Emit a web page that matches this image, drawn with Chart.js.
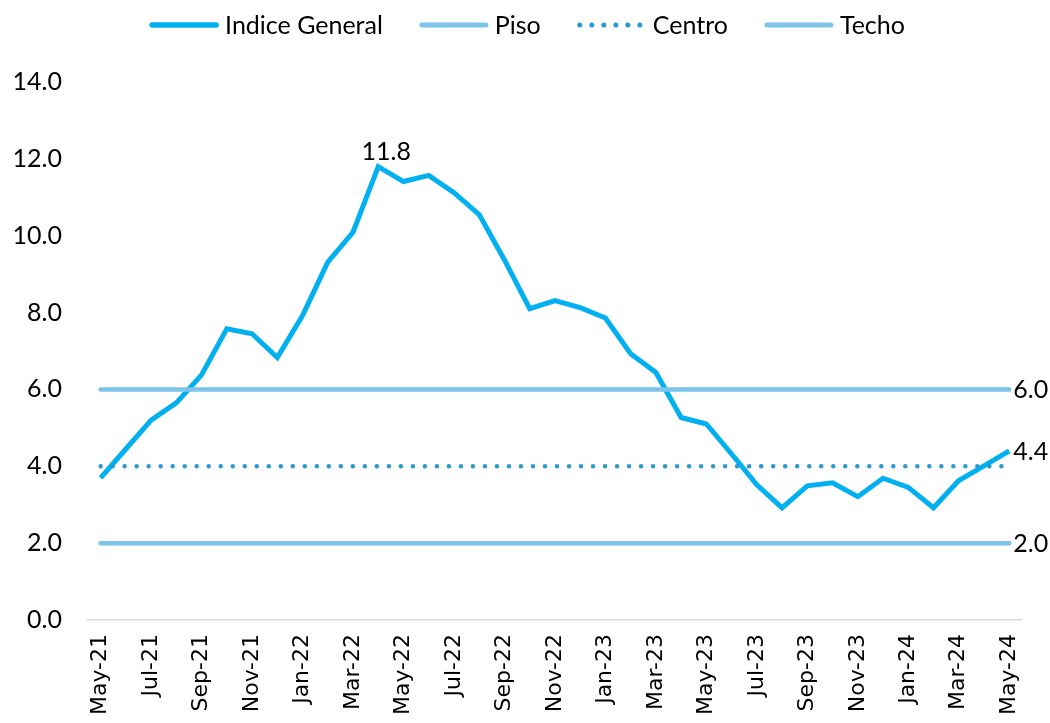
<!DOCTYPE html>
<html>
<head>
<meta charset="utf-8">
<style>
  html, body { margin: 0; padding: 0; background: #ffffff; }
  #wrap { width: 1050px; height: 723px; position: relative; }
</style>
<script src="https://cdn.jsdelivr.net/npm/chart.js@4.4.1/dist/chart.umd.min.js"></script>
</head>
<body>
<div id="wrap"><canvas id="c" width="1050" height="723"></canvas></div>
<script>
const categories = [
  'May-21','Jun-21','Jul-21','Aug-21','Sep-21','Oct-21','Nov-21','Dec-21',
  'Jan-22','Feb-22','Mar-22','Apr-22','May-22','Jun-22','Jul-22','Aug-22','Sep-22','Oct-22','Nov-22','Dec-22',
  'Jan-23','Feb-23','Mar-23','Apr-23','May-23','Jun-23','Jul-23','Aug-23','Sep-23','Oct-23','Nov-23','Dec-23',
  'Jan-24','Feb-24','Mar-24','Apr-24','May-24'
];
const indiceGeneral = [
  3.70, 4.45, 5.20, 5.65, 6.38, 7.58, 7.45, 6.83,
  7.92, 9.31, 10.09, 11.80, 11.41, 11.57, 11.12, 10.55, 9.37, 8.10, 8.31, 8.13,
  7.86, 6.93, 6.44, 5.27, 5.10, 4.32, 3.52, 2.92, 3.49, 3.57, 3.21, 3.69,
  3.45, 2.92, 3.63, 4.01, 4.40
];
const piso = [
  2,2,2,2,2,2,2,2,2,2,2,2,2,2,2,2,2,2,2,2,2,2,2,2,2,2,2,2,2,2,2,2,2,2,2,2,2
];
const centro = [
  4,4,4,4,4,4,4,4,4,4,4,4,4,4,4,4,4,4,4,4,4,4,4,4,4,4,4,4,4,4,4,4,4,4,4,4,4
];
const techo = [
  6,6,6,6,6,6,6,6,6,6,6,6,6,6,6,6,6,6,6,6,6,6,6,6,6,6,6,6,6,6,6,6,6,6,6,6,6
];
const yTicks = [0, 2, 4, 6, 8, 10, 12, 14];
const seriesNames = ['Indice General', 'Piso', 'Centro', 'Techo'];

const CYAN = '#00B0F0';
const LIGHT = '#7BC4EA';
const DOT = '#2A98D4';
const LABEL_FONT = '"Lato", "Open Sans", sans-serif';

const customLegend = {
  id: 'customLegend',
  afterDraw(chart) {
    const ctx = chart.ctx;
    const ds = chart.data.datasets;
    ctx.save();
    ctx.font = '25px ' + LABEL_FONT;
    const sample = 70, gapText = 6, gapItem = 36;
    const widths = ds.map(d => ctx.measureText(d.label).width);
    let total = 0;
    widths.forEach(w => total += sample + gapText + w);
    total += gapItem * (ds.length - 1);
    let x = 527 - total / 2;
    const y = 25;
    ds.forEach((d, i) => {
      ctx.beginPath();
      ctx.strokeStyle = d.borderColor;
      ctx.lineWidth = d.borderWidth + 0.5;
      ctx.lineCap = 'round';
      ctx.setLineDash(d.borderDash || []);
      ctx.moveTo(x + 3, y);
      ctx.lineTo(x + sample - 3, y);
      ctx.stroke();
      ctx.setLineDash([]);
      ctx.fillStyle = '#000000';
      ctx.textAlign = 'left';
      ctx.textBaseline = 'middle';
      ctx.fillText(d.label, x + sample + gapText, y + 1);
      x += sample + gapText + widths[i] + gapItem;
    });
    ctx.restore();
  }
};

const dataLabels = {
  id: 'dataLabels',
  afterDatasetsDraw(chart) {
    const ctx = chart.ctx;
    ctx.save();
    ctx.font = '25px ' + LABEL_FONT;
    ctx.fillStyle = '#000000';
    const main = chart.getDatasetMeta(0);
    const vals = chart.data.datasets[0].data;
    let mi = 0;
    vals.forEach((v, i) => { if (v > vals[mi]) mi = i; });
    const pk = main.data[mi];
    ctx.textAlign = 'center';
    ctx.textBaseline = 'bottom';
    ctx.fillText(vals[mi].toFixed(1), pk.x + 8, pk.y - 2);
    ctx.textAlign = 'left';
    ctx.textBaseline = 'middle';
    [0, 1, 3].forEach(di => {
      const meta = chart.getDatasetMeta(di);
      const d = chart.data.datasets[di].data;
      const last = meta.data[d.length - 1];
      ctx.fillText(d[d.length - 1].toFixed(1), last.x + 4, last.y + 1);
    });
    ctx.restore();
  }
};

new Chart(document.getElementById('c'), {
  type: 'line',
  data: {
    labels: categories,
    datasets: [
      { label: seriesNames[0], data: indiceGeneral, borderColor: CYAN, backgroundColor: CYAN,
        borderWidth: 5, pointRadius: 0, tension: 0, order: 5, borderJoinStyle: 'miter' },
      { label: seriesNames[1], data: piso, borderColor: LIGHT, backgroundColor: LIGHT,
        borderWidth: 4.5, pointRadius: 0, borderCapStyle: 'round', order: 2 },
      { label: seriesNames[2], data: centro, borderColor: DOT, backgroundColor: DOT,
        borderWidth: 4.5, pointRadius: 0, borderCapStyle: 'round', borderDash: [0.01, 12], order: 1 },
      { label: seriesNames[3], data: techo, borderColor: LIGHT, backgroundColor: LIGHT,
        borderWidth: 4.5, pointRadius: 0, borderCapStyle: 'round', order: 3 }
    ]
  },
  options: {
    responsive: false,
    animation: false,
    devicePixelRatio: 1,
    layout: { padding: { top: 82, right: 27, left: 0, bottom: 0 } },
    plugins: {
      legend: { display: false },
      tooltip: { enabled: false }
    },
    scales: {
      x: {
        offset: true,
        grid: { display: false, drawTicks: false },
        border: { display: true, color: '#D9D9D9', width: 1.5 },
        ticks: {
          autoSkip: false,
          maxRotation: 90,
          minRotation: 90,
          padding: 14,
          color: '#000000',
          font: { family: '"DejaVu Sans", sans-serif', size: 22 },
          callback: function(v, i) { return i % 2 === 0 ? categories[i] : ''; }
        },
        afterFit(scale) { scale.height = 103; }
      },
      y: {
        min: 0,
        max: 14,
        grid: { display: false, drawTicks: false },
        border: { display: false },
        afterBuildTicks(scale) { scale.ticks = yTicks.map(v => ({ value: v })); },
        ticks: {
          padding: 26,
          color: '#000000',
          font: { family: LABEL_FONT, size: 25 },
          callback: v => Number(v).toFixed(1)
        },
        afterFit(scale) { scale.width = 88; }
      }
    }
  },
  plugins: [customLegend, dataLabels]
});
</script>
</body>
</html>
